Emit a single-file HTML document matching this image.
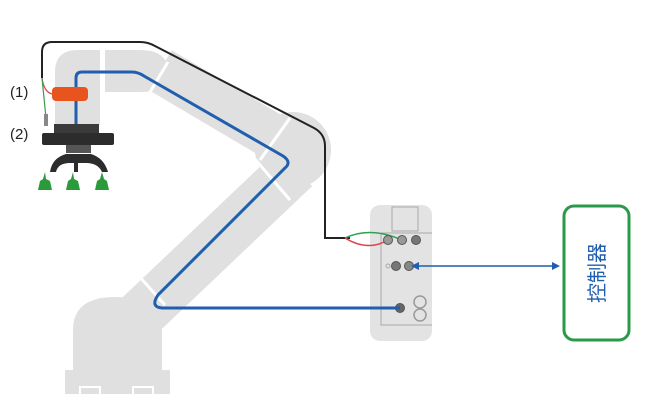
<!DOCTYPE html>
<html><head><meta charset="utf-8"><style>
html,body{margin:0;padding:0;background:#fff;}
svg{display:block;}
</style></head><body>
<svg width="657" height="414" viewBox="0 0 657 414" xmlns="http://www.w3.org/2000/svg">
<g fill="#e0e0e0" stroke="none">
  <rect x="65" y="370" width="105" height="24"/>
  <path d="M73 372 L73 330 Q73 297 115 297 Q160 297 162 330 L162 372 Z"/>
  <line x1="135" y1="320" x2="295" y2="168" stroke="#e0e0e0" stroke-width="50"/>
  <line x1="160" y1="70" x2="292" y2="148" stroke="#e0e0e0" stroke-width="46"/>
  <circle cx="293" cy="150" r="38"/>
  <path d="M105 50 L140 50 Q168 50 168 72 Q168 92 140 92 L105 92 Z"/>
  <path d="M55 125 L55 72 Q55 50 78 50 L100 50 L100 125 Z"/>
</g>
<g stroke="#fff" stroke-width="3" fill="none">
  <line x1="102" y1="48" x2="102" y2="95"/>
  <line x1="150" y1="92" x2="168" y2="62"/>
  <line x1="260" y1="160" x2="290" y2="118"/>
  <line x1="254" y1="158" x2="290" y2="200"/>
  <line x1="128" y1="264" x2="165" y2="305"/>
</g>
<g fill="none" stroke="#fff" stroke-width="2">
  <rect x="80" y="387" width="20" height="8"/>
  <rect x="133" y="387" width="20" height="8"/>
</g>
<!-- controller box -->
<rect x="370" y="205" width="62" height="136" rx="10" fill="#e3e3e3"/>
<rect x="392" y="207" width="26" height="24" fill="none" stroke="#aaa" stroke-width="1"/>
<path d="M381 233 L432 233 M381 233 L381 325 L432 325" fill="none" stroke="#aaa" stroke-width="1"/>
<!-- black cable -->
<path d="M42 78 L42 52 Q42 42 52 42 L140 42 Q148 42 155 46 L314 128 Q325 134 325 146 L325 238 L350 238" fill="none" stroke="#222" stroke-width="2"/>
<path d="M42 78 Q44 92 52 94" fill="none" stroke="#e04040" stroke-width="1.2"/>
<path d="M42 78 L46 118" fill="none" stroke="#3a9a4a" stroke-width="1.2"/>
<path d="M345 238 Q370 226 402 240" fill="none" stroke="#30a050" stroke-width="1.5"/>
<path d="M345 238 Q368 252 388 240" fill="none" stroke="#e04050" stroke-width="1.5"/>
<g stroke="#555" stroke-width="1">
<circle cx="388" cy="240" r="4.5" fill="#999"/>
<circle cx="402" cy="240" r="4.5" fill="#999"/>
<circle cx="416" cy="240" r="4.5" fill="#777"/>
<circle cx="396" cy="266" r="4.5" fill="#777"/>
<circle cx="409" cy="266" r="4.5" fill="#888"/>
<circle cx="400" cy="308" r="4.5" fill="#666"/>
</g>
<circle cx="388" cy="266" r="2" fill="none" stroke="#aaa"/>
<circle cx="420" cy="302" r="6" fill="none" stroke="#999" stroke-width="1.5"/>
<circle cx="420" cy="315" r="6" fill="none" stroke="#999" stroke-width="1.5"/>
<!-- blue cable -->
<path d="M76 125 L76 78 Q76 72 82 72 L132 72 Q138 72 144 76 L283 156 Q292 162 285 168 L158 295 Q150 307 162 308 L400 308" fill="none" stroke="#1f5fae" stroke-width="3"/>
<line x1="414" y1="266" x2="558" y2="266" stroke="#1f5fae" stroke-width="1.5"/>
<polygon points="560,266 552,262 552,270" fill="#1f5fae"/>
<polygon points="411,266 419,262 419,270" fill="#1f5fae"/>
<!-- gripper -->
<rect x="52" y="87" width="36" height="14" rx="4" fill="#e8541e"/>
<rect x="44" y="114" width="4" height="12" fill="#888"/>
<rect x="54" y="124" width="45" height="10" fill="#3a3a3a"/>
<rect x="42" y="133" width="72" height="12" rx="2" fill="#2c2c2c"/>
<rect x="66" y="145" width="25" height="8" fill="#555"/>
<path d="M50 172 Q52 158 66 154 L91 154 Q104 158 108 172 L102 172 Q98 163 86 163 L78 163 L78 172 L74 172 L74 163 L70 163 Q58 163 56 172 Z" fill="#2c2c2c"/>
<g fill="#2a9a3a">
<path d="M38 190 L52 190 L50 181 L46 179 L45 172 L43 179 L40 181 Z"/>
<path d="M66 190 L80 190 L78 181 L74 179 L73 172 L71 179 L68 181 Z"/>
<path d="M95 190 L109 190 L107 181 L104 179 L102 172 L100 179 L97 181 Z"/>
</g>
<text x="10" y="97" font-family="Liberation Sans, sans-serif" font-size="15" fill="#222">(1)</text>
<text x="10" y="139" font-family="Liberation Sans, sans-serif" font-size="15" fill="#222">(2)</text>
<rect x="564" y="206" width="65" height="134" rx="10" fill="#fff" stroke="#2a9a4a" stroke-width="3"/>
<text transform="translate(604,273) rotate(-90)" text-anchor="middle" font-family="Liberation Sans, 'Noto Sans CJK SC', sans-serif" font-size="20" fill="#1f5fae">控制器</text>
</svg>
</body></html>
